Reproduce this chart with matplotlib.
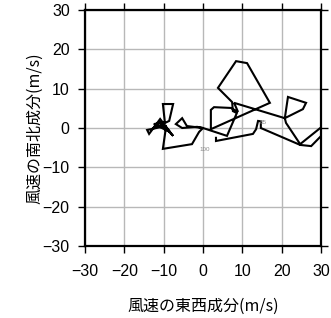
import matplotlib
matplotlib.use('Agg')
import matplotlib.pyplot as plt

plt.rcParams['font.family'] = ['Liberation Sans', 'Noto Sans CJK JP', 'DejaVu Sans']

# hodograph: east-west (u) and north-south (v) wind components, m/s
u = [-9.5, -14.2, -13.7, -10.9, -8.4, -12.5, -9.7, -10.2, -7.6, -8.6, -13.0,
     -11.0, -7.6, -9.4, -10.2, -2.8, -1.0, 0.0, -1.5, -5.3, -6.9, -5.3, -4.1, 0.0,
     6.1, 8.6, 7.6, 7.4, 3.8, 8.4, 11.2, 17.0, 2.0, 2.0, 2.8, 7.1, 8.9, 7.9,
     20.8, 21.6, 26.2, 25.4, 20.8, 21.1, 24.7, 32.3, 32.3, 27.5, 24.7,
     14.7, 14.7, 14.0, 13.5, 12.7, 3.3, 3.3]
v = [0.5, -0.5, -1.5, 2.3, -1.0, 1.0, 1.5, 6.1, 6.1, 1.8, -0.3,
     1.5, -2.0, 0.3, -5.3, -4.1, -1.0, 0.0, 0.3, 0.0, 1.0, 2.5, 0.5, 0.0,
     -2.0, 3.8, 4.3, 6.6, 10.2, 17.0, 16.5, 6.4, -0.3, 4.6, 5.3, 5.1, 4.1, 6.4,
     2.5, 7.9, 6.4, 4.8, 2.5, 1.3, -4.1, 2.0, 0.3, -4.6, -4.3,
     0.0, 1.7, 1.8, -0.3, -1.5, -3.3, -2.5]

# labelled points
lab_text = ['100', '85']
lab_u = [3.3, 14.0]
lab_v = [-3.3, 1.8]

ticks = [-30, -20, -10, 0, 10, 20, 30]
tick_labels = ['\u221230', '\u221220', '\u221210', '0', '10', '20', '30']

jp_font = ['Noto Sans CJK JP', 'DejaVu Sans']

fig = plt.figure(figsize=(3.31, 3.18), dpi=100)
ax = fig.add_axes([0.2568, 0.2264, 0.7130, 0.7421])

ax.plot(u, v, color='black', lw=1.5, solid_joinstyle='miter', zorder=3)

ax.annotate(lab_text[0], (lab_u[0], lab_v[0]), xytext=(-8, -6), textcoords='offset points',
            fontsize=4.5, color='#888888', ha='center', va='center')
ax.annotate(lab_text[1], (lab_u[1], lab_v[1]), xytext=(4, -1), textcoords='offset points',
            fontsize=4.5, color='#888888', ha='center', va='center')

ax.set_xlim(-30, 30)
ax.set_ylim(-30, 30)
ax.set_xticks(ticks)
ax.set_yticks(ticks)
ax.set_xticklabels(tick_labels, fontsize=11.5)
ax.set_yticklabels(tick_labels, fontsize=11.5)
ax.tick_params(direction='out', length=5, width=1.0, top=True, right=True,
               labeltop=False, labelright=False)
ax.tick_params(axis='x', pad=8)
ax.tick_params(axis='y', pad=6)
ax.grid(True, color='#b8b8b8', lw=1.0, zorder=0)
ax.set_axisbelow(True)
for s in ax.spines.values():
    s.set_linewidth(1.6)

ax.set_xlabel('風速の東西成分(m/s)', family=jp_font, fontsize=11.5, va='center')
ax.set_ylabel('風速の南北成分(m/s)', family=jp_font, fontsize=11.5, va='center')
ax.xaxis.set_label_coords(0.5, -0.255)
ax.yaxis.set_label_coords(-0.212, 0.5)

fig.savefig('out.png', dpi=100)
